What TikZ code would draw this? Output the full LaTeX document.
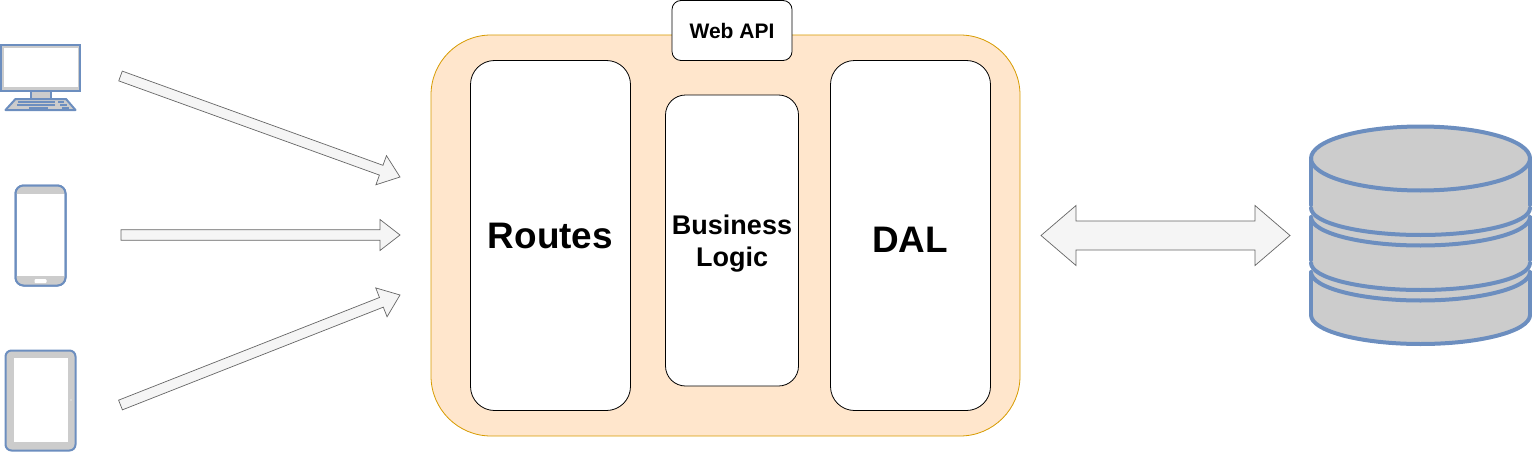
\documentclass[tikz,border=0pt]{standalone}
\usepackage{fontspec}
\setmainfont{Liberation Sans}
\usetikzlibrary{calc}
\definecolor{blueline}{HTML}{6C8EBF}
\definecolor{greyfill}{HTML}{CCCCCC}
\definecolor{panelfill}{HTML}{FFE6CC}
\definecolor{panelline}{HTML}{D79B00}
\definecolor{arrowfill}{HTML}{F5F5F5}
\definecolor{arrowline}{HTML}{666666}
\tikzset{
  panel/.style={draw=panelline,fill=panelfill,line width=0.8pt,rounded corners=60pt,minimum width=589pt,minimum height=401pt,inner sep=0pt},
  block/.style={draw=black,fill=white,line width=0.8pt,inner sep=0pt,align=center},
  bigarrow/.style={draw=arrowline,fill=arrowfill,line width=0.7pt,line join=miter},
  icon/.style={draw=blueline,line width=2pt,fill=greyfill},
  dbline/.style={draw=blueline,line width=4pt,line cap=round,line join=round},
  keyline/.style={draw=blueline,line width=1.5pt},
  bigtext/.style={font=\bfseries\fontsize{36.9}{42}\selectfont},
}
% single arrow: tail, tip, shaft half width, head half width, head length
\newcommand{\onearrow}[5]{%
  \draw[bigarrow]
    ($(#1)!#3!-90:(#2)$) --
    ($($(#2)!#5!(#1)$)!#3!-90:(#2)$) --
    ($($(#2)!#5!(#1)$)!#4!-90:(#2)$) --
    (#2) --
    ($($(#2)!#5!(#1)$)!#4!90:(#2)$) --
    ($($(#2)!#5!(#1)$)!#3!90:(#2)$) --
    ($(#1)!#3!90:(#2)$) -- cycle;}
% lower half of an ellipse across the database
\newcommand{\dbarc}[2]{%
  \pgfmathsetmacro{\dbk}{#2+0.5523*(#1-#2)}%
  \draw[dbline] (1311,#2) .. controls (1311,\dbk) and (1360.5,#1) .. (1420.5,#1)
  .. controls (1480.5,#1) and (1530,\dbk) .. (1530,#2);}
\begin{document}
\begin{tikzpicture}[x=1pt,y=-1pt]
\useasboundingbox (0,0) rectangle (1533,452);

% Client arrows
\coordinate (t1) at (120.5,76);  \coordinate (h1) at (400,177);
\coordinate (t2) at (121,235); \coordinate (h2) at (400,235);
\coordinate (t3) at (120.5,405); \coordinate (h3) at (400,295);
\onearrow{t1}{h1}{5.2pt}{15.5pt}{20pt}
\onearrow{t2}{h2}{5.2pt}{15.5pt}{20pt}
\onearrow{t3}{h3}{5.2pt}{15.5pt}{20pt}

% Web API panel
\node[panel] (api) at (725.5,235.5) {};
\node[block,rounded corners=24pt,minimum width=160pt,minimum height=350pt,bigtext] (routes) at (550.5,235.5) {Routes};
\node[block,rounded corners=20pt,minimum width=133pt,minimum height=291pt] (logic) at (732,240.5) {};
\node[align=center,inner sep=0pt,font=\bfseries\fontsize{27}{32}\selectfont] (logiclabel) at (732,244) {Business\\Logic};
\node[block,rounded corners=24pt,minimum width=160pt,minimum height=350pt] (dal) at (910.5,235.5) {};
\node[bigtext] (dallabel) at (910,240) {DAL};
\node[block,rounded corners=9pt,minimum width=120pt,minimum height=60pt,font=\bfseries\fontsize{21}{25}\selectfont] (web) at (732,30.5) {Web API};

% Double arrow
\coordinate (dl) at (1041,235.5);
\coordinate (dr) at (1290,235.5);
\draw[bigarrow]
  (dl) -- ($(dl)+(35,-30)$) -- ($(dl)+(35,-14.5)$) -- ($(dr)+(-35,-14.5)$) -- ($(dr)+(-35,-30)$) --
  (dr) -- ($(dr)+(-35,30)$) -- ($(dr)+(-35,14.5)$) -- ($(dl)+(35,14.5)$) -- ($(dl)+(35,30)$) -- cycle;

% Desktop
\draw[icon] (1,45) rectangle (80,90.5);
\fill[white] (3.5,48) rectangle (77.5,87);
\draw[icon] (30.5,90.5) rectangle (51,99);
\draw[icon,line join=round] (15.5,99) -- (66,99) -- (75.5,110) -- (5.5,110) -- cycle;
\draw[keyline] (18,101.8) -- (55,101.8) (58,101.8) -- (64,101.8)
  (17,104.8) -- (55,104.8) (60,104.8) -- (67,104.8)
  (29,108) -- (48,108) (62,108) -- (69,108);

% Phone
\draw[icon,fill=white,rounded corners=8pt] (15.5,185.5) rectangle (65.5,285.5);
\begin{scope}
  \clip[rounded corners=8pt] (15.5,185.5) rectangle (65.5,285.5);
  \fill[greyfill] (15.5,185.5) rectangle (65.5,194);
  \fill[greyfill] (15.5,276) rectangle (65.5,285.5);
\end{scope}
\fill[white,rounded corners=1pt] (34.5,279) rectangle (46.5,283);
\draw[draw=blueline,line width=2pt,rounded corners=8pt] (15.5,185.5) rectangle (65.5,285.5);

% Tablet
\draw[icon,rounded corners=6pt] (5.5,350.5) rectangle (75.5,450.5);
\fill[white] (13.5,358) rectangle (68,442);
\fill[white] (71,400) circle (0.6pt);

% Database
\path[fill=greyfill] (1311,158.5) -- (1311,315) .. controls (1311,331.5) and (1360.5,344) .. (1420.5,344)
  .. controls (1480.5,344) and (1530,331.5) .. (1530,315) -- (1530,158.5)
  .. controls (1530,140.5) and (1480.5,126.5) .. (1420.5,126.5)
  .. controls (1360.5,126.5) and (1311,140.5) .. (1311,158.5) -- cycle;
\draw[dbline] (1311,158.5) .. controls (1311,140.5) and (1360.5,126.5) .. (1420.5,126.5)
  .. controls (1480.5,126.5) and (1530,140.5) .. (1530,158.5);
\dbarc{190.5}{158.5}
\dbarc{235}{208}
\dbarc{245.5}{217}
\dbarc{290}{263}
\dbarc{300.5}{272}
\dbarc{344}{315}
\draw[dbline] (1311,158.5) -- (1311,205) (1530,158.5) -- (1530,205)
  (1311,219) -- (1311,260) (1530,219) -- (1530,260)
  (1311,274) -- (1311,315) (1530,274) -- (1530,315);
\end{tikzpicture}
\end{document}
